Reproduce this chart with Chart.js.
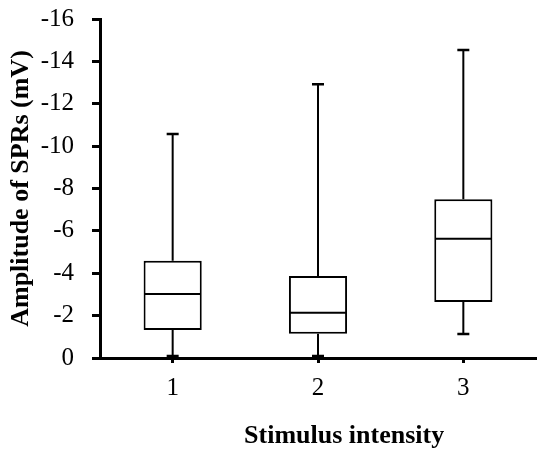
<!DOCTYPE html>
<html>
<head>
<meta charset="utf-8">
<script src="https://cdn.jsdelivr.net/npm/chart.js@4.4.1/dist/chart.umd.min.js"></script>
<style>
  html, body { margin: 0; padding: 0; background: #fff; }
  #wrap { width: 537px; height: 450px; }
</style>
</head>
<body>
<div id="wrap"><canvas id="boxChart" width="537" height="450"></canvas></div>
<script>
// Box plot data (mV)
const categories = ['1', '2', '3'];
const whiskerLow = [-0.1, -0.1, -1.13];
const quartile1 = [-1.32, -1.15, -2.64];
const medians = [-3.02, -2.14, -5.63];
const quartile3 = [-4.59, -3.87, -7.49];
const whiskerHigh = [-10.57, -12.92, -14.54];
const yTicks = [0, -2, -4, -6, -8, -10, -12, -14, -16];
const xTitle = 'Stimulus intensity';

const serif = '"Liberation Serif", "Times New Roman", serif';

// medians, whiskers and caps drawn on top of the floating bars
const boxExtras = {
    id: 'boxExtras',
    afterDatasetsDraw(chart) {
        const ctx = chart.ctx;
        const y = chart.scales.y;
        const meta = chart.getDatasetMeta(0);
        ctx.save();
        ctx.strokeStyle = '#000';
        ctx.lineCap = 'butt';
        meta.data.forEach((bar, i) => {
            const x = bar.x;
            const half = bar.width / 2;
            const capHalf = 6;
            // median
            ctx.lineWidth = 2;
            ctx.beginPath();
            ctx.moveTo(x - half + 1, y.getPixelForValue(medians[i]));
            ctx.lineTo(x + half - 1, y.getPixelForValue(medians[i]));
            ctx.stroke();
            // whiskers
            ctx.beginPath();
            ctx.moveTo(x, y.getPixelForValue(quartile3[i]));
            ctx.lineTo(x, y.getPixelForValue(whiskerHigh[i]));
            ctx.moveTo(x, y.getPixelForValue(quartile1[i]));
            ctx.lineTo(x, y.getPixelForValue(whiskerLow[i]));
            ctx.stroke();
            // caps
            ctx.lineWidth = 2.5;
            ctx.beginPath();
            ctx.moveTo(x - capHalf, y.getPixelForValue(whiskerHigh[i]));
            ctx.lineTo(x + capHalf, y.getPixelForValue(whiskerHigh[i]));
            ctx.moveTo(x - capHalf, y.getPixelForValue(whiskerLow[i]));
            ctx.lineTo(x + capHalf, y.getPixelForValue(whiskerLow[i]));
            ctx.stroke();
        });
        ctx.restore();
    }
};

// x axis title sits right of the axis centre in the original
const xTitlePlugin = {
    id: 'xTitlePlugin',
    afterDraw(chart) {
        const ctx = chart.ctx;
        const xs = chart.scales.x;
        ctx.save();
        ctx.font = 'bold 26px ' + serif;
        ctx.fillStyle = '#000';
        ctx.textAlign = 'center';
        ctx.textBaseline = 'alphabetic';
        ctx.fillText(xTitle, xs.left + xs.width * 0.56, 443);
        ctx.restore();
    }
};

const boxes = categories.map((c, i) => [quartile1[i], quartile3[i]]);

new Chart(document.getElementById('boxChart').getContext('2d'), {
    type: 'bar',
    data: {
        labels: categories,
        datasets: [{
            data: boxes,
            backgroundColor: '#fff',
            borderColor: '#000',
            borderWidth: 2,
            borderSkipped: false,
            barPercentage: 0.4,
            categoryPercentage: 1
        }]
    },
    options: {
        responsive: false,
        animation: false,
        layout: { padding: { left: 2, right: 1, top: 19, bottom: 0 } },
        plugins: {
            legend: { display: false },
            tooltip: { enabled: false }
        },
        scales: {
            x: {
                offset: true,
                afterFit(scale) {
                    scale.height = 92;
                    scale.paddingLeft = 0;
                    scale.paddingRight = 0;
                },
                grid: {
                    offset: false,
                    drawOnChartArea: false,
                    drawTicks: true,
                    tickLength: 5,
                    lineWidth: 3,
                    color: '#000'
                },
                border: { display: true, width: 3, color: '#000' },
                ticks: {
                    color: '#000',
                    padding: 10,
                    font: { family: serif, size: 25 }
                },
                title: { display: false }
            },
            y: {
                reverse: true,
                min: -16,
                max: 0,
                afterBuildTicks(axis) {
                    axis.ticks = yTicks.map(v => ({ value: v }));
                },
                afterFit(scale) {
                    scale.width = 98;
                    scale.paddingTop = 0;
                    scale.paddingBottom = 0;
                },
                grid: {
                    drawOnChartArea: false,
                    drawTicks: true,
                    tickLength: 8,
                    lineWidth: 3,
                    color: '#000'
                },
                border: { display: true, width: 3, color: '#000' },
                ticks: {
                    color: '#000',
                    padding: 18,
                    callback: v => String(v),
                    font: { family: serif, size: 25 }
                },
                title: {
                    display: true,
                    text: 'Amplitude of SPRs (mV)',
                    color: '#000',
                    padding: { top: 4, bottom: 5 },
                    font: { family: serif, size: 26, weight: 'bold' }
                }
            }
        }
    },
    plugins: [boxExtras, xTitlePlugin]
});
</script>
</body>
</html>
